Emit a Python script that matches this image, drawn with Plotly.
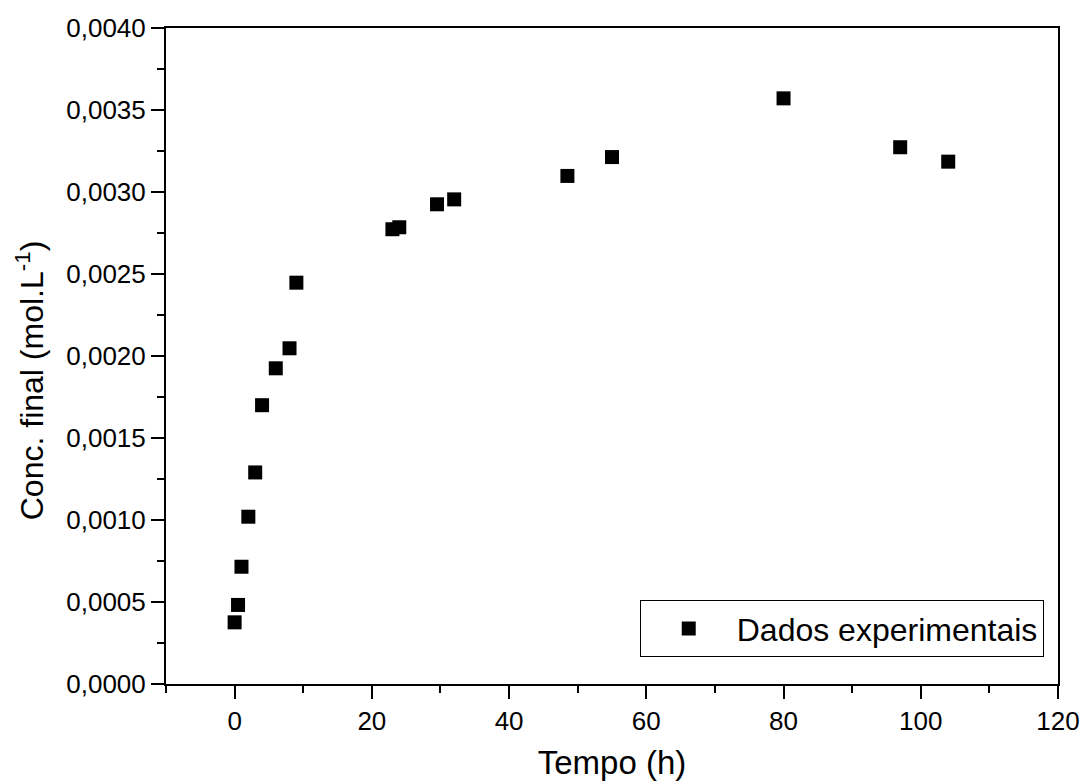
import plotly.graph_objects as go

# Experimental data: final concentration over time
tempo_h = [0, 0.5, 1, 2, 3, 4, 6, 8, 9, 23, 24, 29.5, 32, 48.5, 55, 80, 97, 104]
conc_final = [0.000376, 0.000482, 0.000715, 0.00102, 0.00129, 0.00170, 0.001925,
              0.002047, 0.002447, 0.002773, 0.002785, 0.002925, 0.002955,
              0.003098, 0.003213, 0.003571, 0.003273, 0.003185]

serie_nome = "Dados experimentais"
titulo_x = "Tempo (h)"
titulo_y = "Conc. final (mol.L<sup>-1</sup>)"

FONT = "Liberation Sans, Arial, sans-serif"

fig = go.Figure()
fig.add_trace(go.Scatter(
    x=tempo_h, y=conc_final, mode="markers", name=serie_nome,
    marker=dict(symbol="square", size=14, color="black", line=dict(width=0)),
))

axis_common = dict(
    showline=True, linecolor="black", linewidth=2, mirror=True,
    ticks="outside", ticklen=13, tickwidth=2, tickcolor="black",
    showgrid=False, zeroline=False, automargin=False,
    tickfont=dict(family=FONT, size=26, color="black"),
)

fig.update_xaxes(
    range=[-10, 120], tick0=0, dtick=20,
    minor=dict(ticks="outside", ticklen=7, tickwidth=2, tickcolor="black", dtick=10),
    title=dict(text=titulo_x, font=dict(family=FONT, size=33, color="black"), standoff=16),
    **axis_common,
)
fig.update_yaxes(
    range=[0, 0.004], tick0=0, dtick=0.0005, tickformat=".4f",
    minor=dict(ticks="outside", ticklen=7, tickwidth=2, tickcolor="black", dtick=0.00025),
    **axis_common,
)

# Y-axis title placed as a rotated annotation, sitting slightly below the axis centre
fig.add_annotation(
    text=titulo_y, xref="paper", yref="paper", x=-0.1525, y=0.463,
    xanchor="center", yanchor="middle", textangle=-90, showarrow=False,
    font=dict(family=FONT, size=32, color="black"),
)

fig.update_layout(
    width=1082, height=782,
    margin=dict(l=166, r=24, t=28, b=98),
    paper_bgcolor="white", plot_bgcolor="white",
    separators=",.",
    font=dict(family=FONT, color="black"),
    legend=dict(
        x=0.984, y=0.041, xanchor="right", yanchor="bottom",
        bordercolor="black", borderwidth=1, bgcolor="white",
        font=dict(family=FONT, size=32, color="black"),
        itemwidth=86,
    ),
    showlegend=True,
)

fig.write_html("out.html")
